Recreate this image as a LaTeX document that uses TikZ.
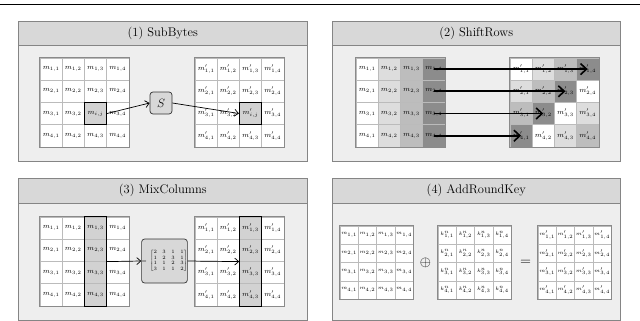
\documentclass[tikz,border=0pt]{standalone}
\usepackage{amsmath}
\usetikzlibrary{arrows.meta}
\definecolor{panelbg}{HTML}{EEEEEE}
\definecolor{headbg}{HTML}{D8D8D8}
\definecolor{panelline}{HTML}{858585}
\definecolor{gridline}{HTML}{BBBBBB}
\definecolor{gridouter}{HTML}{8A8A8A}
\definecolor{fill0}{HTML}{FFFFFF}
\definecolor{fill1}{HTML}{DDDDDD}
\definecolor{fill2}{HTML}{BDBDBD}
\definecolor{fill3}{HTML}{8C8C8C}
\definecolor{fill4}{HTML}{D2D2D2}
\definecolor{boxfill}{HTML}{D8D8D8}
\tikzset{
 panelbox/.style={draw=panelline, fill=panelbg, line width=0.6pt, inner sep=0pt, anchor=north west},
 headbox/.style={draw=panelline, fill=headbg, line width=0.6pt, inner sep=0pt, anchor=north west, font=\fontsize{12.5}{14}\selectfont},
 cellbox/.style={draw=gridline, line width=0.4pt, inner sep=0pt},
 gridout/.style={draw=gridouter, line width=0.7pt},
 hl/.style={fill=fill4, draw=black, line width=0.9pt},
 thinarrow/.style={-{Straight Barb[length=4pt,width=7pt]}, line width=0.7pt},
 bigarrow/.style={-{Straight Barb[length=6pt,width=11pt]}, line width=1.6pt},
 opbox/.style={draw=black!80, fill=boxfill, rounded corners=3pt, line width=0.7pt, inner sep=0pt},
}
% name, x0, y0, cell size, font size, content, fill index expression
\newcommand\mygrid[7]{%
 \foreach \r in {1,...,4}{\foreach \c in {1,...,4}{%
   \pgfmathtruncatemacro\s{#7}%
   \node[cellbox, minimum size=#4pt, fill=fill\s, font=\fontsize{#5}{#5}\selectfont] (#1-\r-\c) at ({#2+(\c-0.5)*#4},{#3+(\r-0.5)*#4}) {#6};
 }}%
 \draw[gridout] (#1-1-1.north west) rectangle (#1-4-4.south east);
}
\begin{document}
\begin{tikzpicture}[x=1pt,y=-1pt]
\useasboundingbox (0,0) rectangle (640,321);
\draw[line width=1.5pt] (0,4.5) -- (640,4.5);

% panels
\node[panelbox, minimum width=289pt, minimum height=140pt] (P1) at (18,21) {};
\node[headbox, minimum width=289pt, minimum height=24pt] (H1) at (18,21) {(1) SubBytes};
\node[panelbox, minimum width=288pt, minimum height=140pt] (P2) at (332,21) {};
\node[headbox, minimum width=288pt, minimum height=24pt] (H2) at (332,21) {(2) ShiftRows};
\node[panelbox, minimum width=289pt, minimum height=141.5pt] (P3) at (18,178) {};
\node[headbox, minimum width=289pt, minimum height=25pt] (H3) at (18,178) {(3) MixColumns};
\node[panelbox, minimum width=288pt, minimum height=141.5pt] (P4) at (332,178) {};
\node[headbox, minimum width=288pt, minimum height=25pt] (H4) at (332,178) {(4) AddRoundKey};

% (1) SubBytes
\mygrid{A}{40}{58}{22.2}{7.5}{$m_{\r,\c}$}{0}
\mygrid{B}{195}{58}{22.2}{7.5}{$m'_{\r,\c}$}{0}
\node[cellbox, hl, minimum size=22.2pt, font=\fontsize{7.5}{7.5}\selectfont] (Ahl) at (A-3-3) {$m_{i,j}$};
\node[cellbox, hl, minimum size=22.2pt, font=\fontsize{7.5}{7.5}\selectfont] (Bhl) at (B-3-3) {$m'_{i,j}$};
\node[opbox, minimum size=22pt, font=\fontsize{13}{13}\selectfont] (S) at (161,103) {$S$};
\draw[thinarrow] (Ahl.east) -- (S.west);
\draw[thinarrow] (S.east) -- (Bhl.west);

% (2) ShiftRows
\mygrid{C}{356}{58}{22.2}{7.5}{$m_{\r,\c}$}{\c-1}
\mygrid{D}{510}{58}{22.2}{7.5}{$m'_{\r,\c}$}{mod(\c+\r-2,4)}
\foreach \r in {1,...,4}{%
  \pgfmathtruncatemacro\t{5-\r}%
  \draw[bigarrow] (C-\r-4.center) -- (D-\r-\t.center);
}

% (3) MixColumns
\mygrid{E}{40}{217}{22.2}{7.5}{$m_{\r,\c}$}{(\c==3)*4}
\mygrid{F}{195}{217}{22.2}{7.5}{$m'_{\r,\c}$}{(\c==3)*4}
\draw[black, line width=0.9pt] (E-1-3.north west) rectangle (E-4-3.south east);
\draw[black, line width=0.9pt] (F-1-3.north west) rectangle (F-4-3.south east);
\node[opbox, minimum width=45pt, minimum height=44pt, font=\fontsize{4.5}{5.5}\selectfont] (M) at (164.5,261)
  {$\setlength{\arraycolsep}{2.8pt}={}\begin{bmatrix}2&3&1&1\\1&2&3&1\\1&1&2&3\\3&1&1&2\end{bmatrix}$};
\draw[thinarrow] (E-2-3.south east) -- (M.west);
\draw[thinarrow] (M.east) -- (F-2-3.south west);

% (4) AddRoundKey
\mygrid{G}{340}{226}{18.3}{5}{$m_{\r,\c}$}{0}
\mygrid{K}{438}{226}{18.3}{5.5}{$k^{n}_{\r,\c}$}{0}
\mygrid{R}{538}{226}{18.3}{5}{$m'_{\r,\c}$}{0}
\node[font=\fontsize{14}{14}\selectfont, inner sep=0pt] (oplus) at (425.5,263) {$\oplus$};
\node[font=\fontsize{14}{14}\selectfont, inner sep=0pt] (eq) at (525.5,263) {$=$};
\end{tikzpicture}
\end{document}
